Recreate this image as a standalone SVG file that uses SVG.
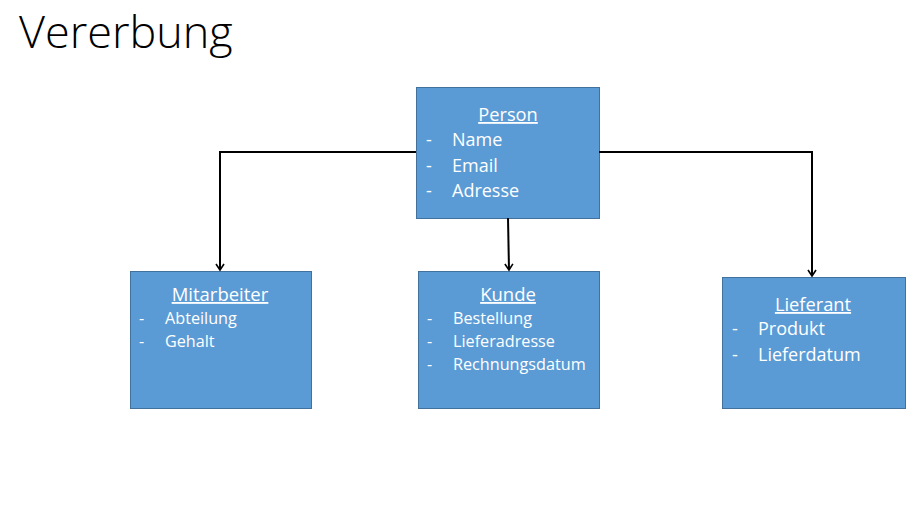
<svg xmlns="http://www.w3.org/2000/svg" width="923" height="522" viewBox="0 0 923 522">
<defs>
<marker id="arr" markerWidth="12" markerHeight="12" refX="7" refY="5" orient="auto" markerUnits="userSpaceOnUse">
<path d="M1,1 L7,5 L1,9" fill="none" stroke="#000" stroke-width="1.6"/>
</marker>
<style>
.box{fill:#5B9BD5;stroke:#41719C;stroke-width:1}
.t{font-family:"Open Sans","Liberation Sans",Arial,sans-serif;fill:#fff}
.h{text-anchor:middle;text-decoration:underline}
.c{fill:none;stroke:#000;stroke-width:2}
</style>
</defs>
<rect width="923" height="522" fill="#fff"/>
<text x="19" y="48" font-family="'Open Sans','Liberation Sans',sans-serif" font-size="45" font-weight="300" fill="#000">Vererbung</text>
<g id="person">
<rect class="box" x="416.5" y="87.5" width="183" height="131"/>
<text class="t h" x="508" y="121" font-size="18.3">Person</text>
<g class="t" font-size="18"><text x="426" y="146">-</text><text x="452" y="146">Name</text>
<text x="426" y="172">-</text><text x="452" y="172">Email</text>
<text x="426" y="197">-</text><text x="452" y="197">Adresse</text></g>
</g>
<g id="mitarbeiter">
<rect class="box" x="130.5" y="271.5" width="181" height="137"/>
<text class="t h" x="220" y="301" font-size="18.5">Mitarbeiter</text>
<g class="t" font-size="16.2"><text x="139" y="324">-</text><text x="165" y="324">Abteilung</text>
<text x="139" y="347">-</text><text x="165" y="347">Gehalt</text></g>
</g>
<g id="kunde">
<rect class="box" x="418.5" y="271.5" width="181" height="137"/>
<text class="t h" x="508" y="301" font-size="18.5">Kunde</text>
<g class="t" font-size="16.2"><text x="427" y="324">-</text><text x="453" y="324">Bestellung</text>
<text x="427" y="347">-</text><text x="453" y="347">Lieferadresse</text>
<text x="427" y="370">-</text><text x="453" y="370">Rechnungsdatum</text></g>
</g>
<g id="lieferant">
<rect class="box" x="722.5" y="277.5" width="183" height="131"/>
<text class="t h" x="813" y="311" font-size="18.3">Lieferant</text>
<g class="t" font-size="18"><text x="732" y="335">-</text><text x="758" y="335">Produkt</text>
<text x="732" y="361">-</text><text x="758" y="361">Lieferdatum</text></g>
</g>
<g id="connectors">
<path class="c" d="M416,152 H220 V270" marker-end="url(#arr)"/>
<path class="c" d="M508,218 L509,270" marker-end="url(#arr)"/>
<path class="c" d="M599,152 H812 V276" marker-end="url(#arr)"/>
</g>
</svg>
